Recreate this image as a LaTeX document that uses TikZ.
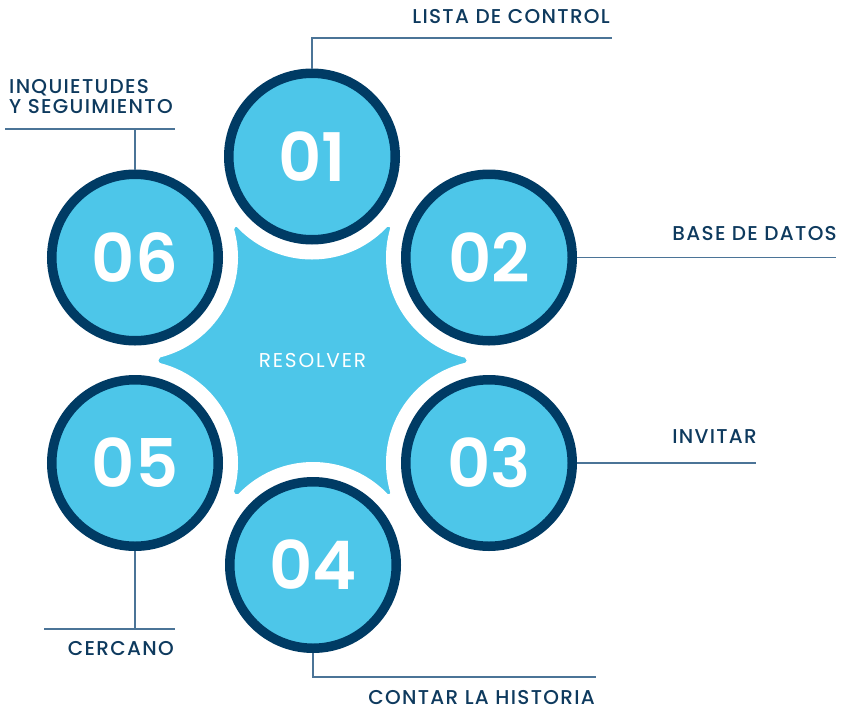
\documentclass[tikz,border=0pt]{standalone}
\usepackage{fontspec}
\setmainfont{Poppins}
\newfontfamily\numfont{Poppins SemiBold}
\newfontfamily\labfont{Poppins Medium}[LetterSpace=6.5]
\newfontfamily\corefont{Poppins}[LetterSpace=9]
\definecolor{sky}{HTML}{4DC6E9}
\definecolor{navy}{HTML}{003B64}
\definecolor{ink}{HTML}{0E3A5E}
\definecolor{rule}{HTML}{4B7497}
\tikzset{
  numcircle/.style={circle, inner sep=0pt, minimum size=166.5pt, fill=sky, draw=navy,
    line width=9.5pt, text=white, font=\numfont\fontsize{67}{67}\selectfont,
    preaction={draw=white, line width=39.5pt}},
  steplabel/.style={inner sep=0pt, text=ink, font=\labfont\fontsize{20}{20}\selectfont},
  leader/.style={draw=rule, line width=1.2pt}
}
\begin{document}
\begin{tikzpicture}[x=1pt, y=-1pt]
  \useasboundingbox (0,0) rectangle (842,709);
  \fill[sky, shift={(312.5,360.5)}] (0:154) -- (60:154) -- (120:154) -- (180:154) -- (240:154) -- (300:154) -- cycle;
  \node[text=white, font=\corefont\fontsize{20}{20}\selectfont] (core) at (312.5,361) {RESOLVER};
  \foreach \x/\y/\n in {312/156.5/01, 489/257.5/02, 489/463/03, 313/565/04, 135/463/05, 135/257.5/06}
    \node[numcircle] (c\n) at (\x,\y) {\n};
  % etiquetas y lineas
  \node[steplabel, anchor=base east] (l1) at (610,24) {LISTA DE CONTROL};
  \coordinate (e1) at (612,38);
  \draw[leader] (c01.north) |- (e1);
  \node[steplabel, anchor=base east] (l2) at (837,240.5) {BASE DE DATOS};
  \coordinate (e2) at (836,257.5);
  \draw[leader] (c02.east) -- (e2);
  \node[steplabel, anchor=base east] (l3) at (757,443) {INVITAR};
  \coordinate (e3) at (756,463);
  \draw[leader] (c03.east) -- (e3);
  \node[steplabel, anchor=base east] (l4) at (595,704.5) {CONTAR LA HISTORIA};
  \coordinate (e4) at (596,677);
  \draw[leader] (c04.south) |- (e4);
  \node[steplabel, anchor=base east] (l5) at (174,655.5) {CERCANO};
  \coordinate (e5a) at (44,629); \coordinate (e5b) at (175,629);
  \draw[leader] (c05.south) -- (c05.south |- e5a);
  \draw[leader] (e5a) -- (e5b);
  \node[steplabel, anchor=north west, align=left] (l6) at (9,79) {INQUIETUDES\\Y SEGUIMIENTO};
  \coordinate (e6a) at (5,129); \coordinate (e6b) at (175,129);
  \draw[leader] (c06.north) -- (c06.north |- e6a);
  \draw[leader] (e6a) -- (e6b);
\end{tikzpicture}
\end{document}
